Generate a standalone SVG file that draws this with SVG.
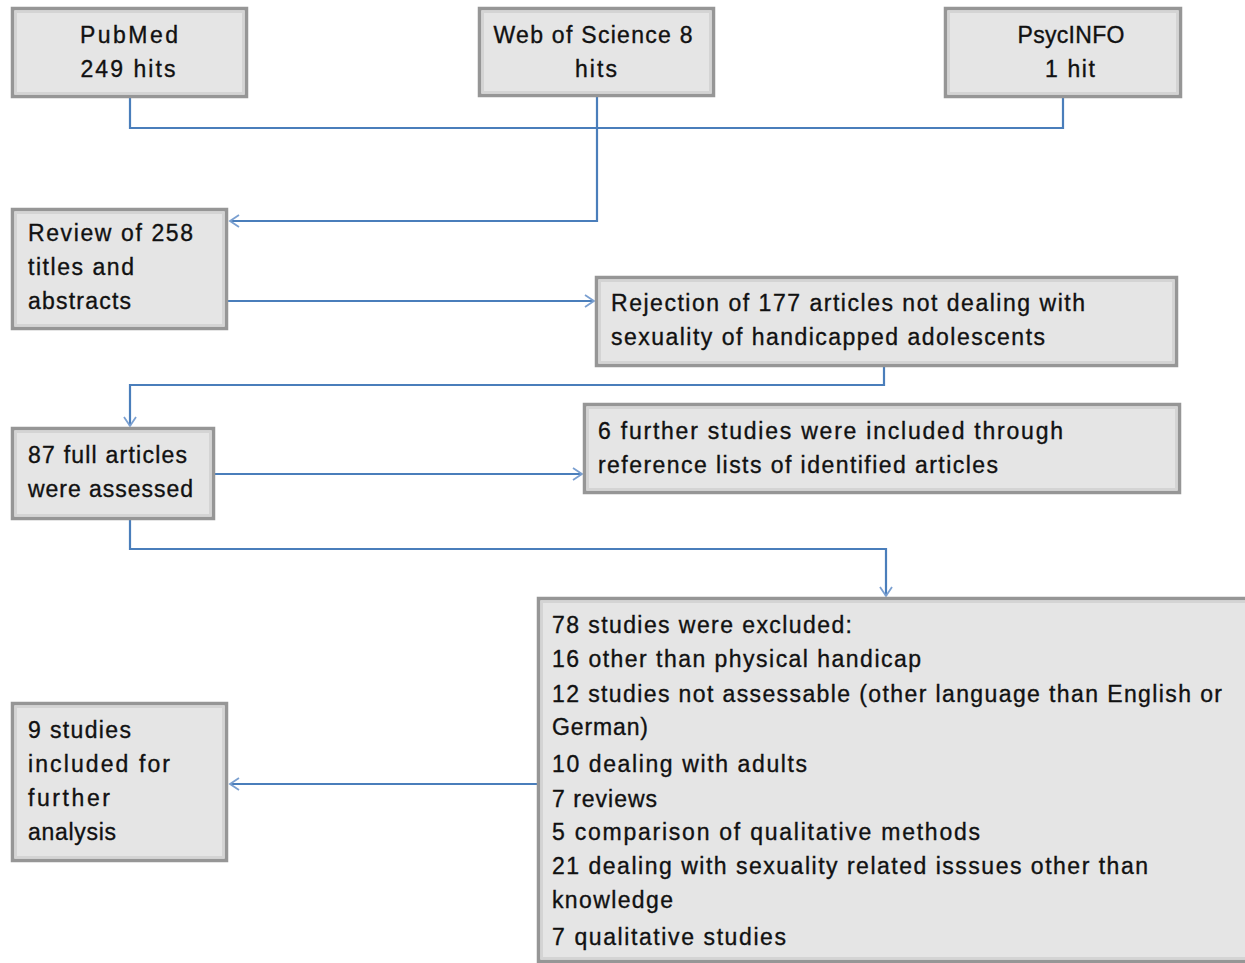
<svg xmlns="http://www.w3.org/2000/svg" width="1245" height="963" viewBox="0 0 1245 963">
<style>
.box{fill:#e5e5e5;stroke:#969696;stroke-width:3.5}
.inner{fill:none;stroke:#d4d4d4;stroke-width:2}
.t{font-family:"Liberation Sans",Arial,sans-serif;font-size:23px;fill:#111;stroke:#111;stroke-width:0.35}
.c{text-anchor:middle}
.ln{fill:none;stroke:#4a7ebb;stroke-width:2.2}
</style>
<defs>
<marker id="ah" markerUnits="userSpaceOnUse" markerWidth="16" markerHeight="16" viewBox="-10 -8 12 16" refX="0" refY="0" orient="auto">
<path d="M-9,-6 L0,0 L-9,6" fill="none" stroke="#7a9fd0" stroke-width="1.8"/>
</marker>
</defs>
<rect width="1245" height="963" fill="#ffffff"/>
<g id="connectors">
<path class="ln" d="M130,98 V128 H1063 V98"/>
<path class="ln" d="M597,97 V221 H230" marker-end="url(#ah)"/>
<path class="ln" d="M228,301 H594" marker-end="url(#ah)"/>
<path class="ln" d="M884,367 V385 H130 V426" marker-end="url(#ah)"/>
<path class="ln" d="M215,474 H582" marker-end="url(#ah)"/>
<path class="ln" d="M130,520 V549 H886 V596" marker-end="url(#ah)"/>
<path class="ln" d="M537,784 H230" marker-end="url(#ah)"/>
</g>
<g id="pubmed">
<rect class="box" x="12.5" y="8.5" width="234" height="88"/>
<rect class="inner" x="16" y="12" width="227" height="81"/>
<text class="t c" x="129" y="43" textLength="98">PubMed</text>
<text class="t c" x="128" y="77" textLength="95">249 hits</text>
</g>
<g id="wos">
<rect class="box" x="479.5" y="8.5" width="234" height="87"/>
<rect class="inner" x="483" y="12" width="227" height="80"/>
<text class="t c" x="593" y="43" textLength="199">Web of Science 8</text>
<text class="t c" x="596" y="77" textLength="42">hits</text>
</g>
<g id="psycinfo">
<rect class="box" x="945.5" y="8.5" width="235" height="88"/>
<rect class="inner" x="949" y="12" width="228" height="81"/>
<text class="t c" x="1071" y="43" textLength="107">PsycINFO</text>
<text class="t c" x="1070" y="77" textLength="50">1 hit</text>
</g>
<g id="review">
<rect class="box" x="12.5" y="209.5" width="214" height="119"/>
<rect class="inner" x="16" y="213" width="207" height="112"/>
<text class="t" x="28" y="241" textLength="165">Review of 258</text>
<text class="t" x="28" y="275" textLength="106">titles and</text>
<text class="t" x="28" y="309" textLength="103">abstracts</text>
</g>
<g id="rejection">
<rect class="box" x="596.5" y="277.5" width="580" height="88"/>
<rect class="inner" x="600" y="281" width="573" height="81"/>
<text class="t" x="611" y="311" textLength="474">Rejection of 177 articles not dealing with</text>
<text class="t" x="611" y="345" textLength="434">sexuality of handicapped adolescents</text>
</g>
<g id="assessed">
<rect class="box" x="12.5" y="428.5" width="201" height="90"/>
<rect class="inner" x="16" y="432" width="194" height="83"/>
<text class="t" x="28" y="463" textLength="159">87 full articles</text>
<text class="t" x="28" y="497" textLength="165">were assessed</text>
</g>
<g id="further">
<rect class="box" x="584.5" y="404.5" width="595" height="88"/>
<rect class="inner" x="588" y="408" width="588" height="81"/>
<text class="t" x="598" y="439" textLength="465">6 further studies were included through</text>
<text class="t" x="598" y="473" textLength="400">reference lists of identified articles</text>
</g>
<g id="excluded">
<rect class="box" x="538.5" y="598.5" width="720" height="363"/>
<rect class="inner" x="542" y="602" width="713" height="356"/>
<text class="t" x="552" y="633" textLength="300">78 studies were excluded:</text>
<text class="t" x="552" y="667" textLength="369">16 other than physical handicap</text>
<text class="t" x="552" y="702" textLength="670">12 studies not assessable (other language than English or</text>
<text class="t" x="552" y="735" textLength="96">German)</text>
<text class="t" x="552" y="772" textLength="255">10 dealing with adults</text>
<text class="t" x="552" y="807" textLength="105">7 reviews</text>
<text class="t" x="552" y="840" textLength="428">5 comparison of qualitative methods</text>
<text class="t" x="552" y="874" textLength="596">21 dealing with sexuality related isssues other than</text>
<text class="t" x="552" y="908" textLength="121">knowledge</text>
<text class="t" x="552" y="945" textLength="234">7 qualitative studies</text>
</g>
<g id="included">
<rect class="box" x="12.5" y="703.5" width="214" height="157"/>
<rect class="inner" x="16" y="707" width="207" height="150"/>
<text class="t" x="28" y="738" textLength="103">9 studies</text>
<text class="t" x="28" y="772" textLength="142">included for</text>
<text class="t" x="28" y="806" textLength="82">further</text>
<text class="t" x="28" y="840" textLength="88">analysis</text>
</g>
</svg>
